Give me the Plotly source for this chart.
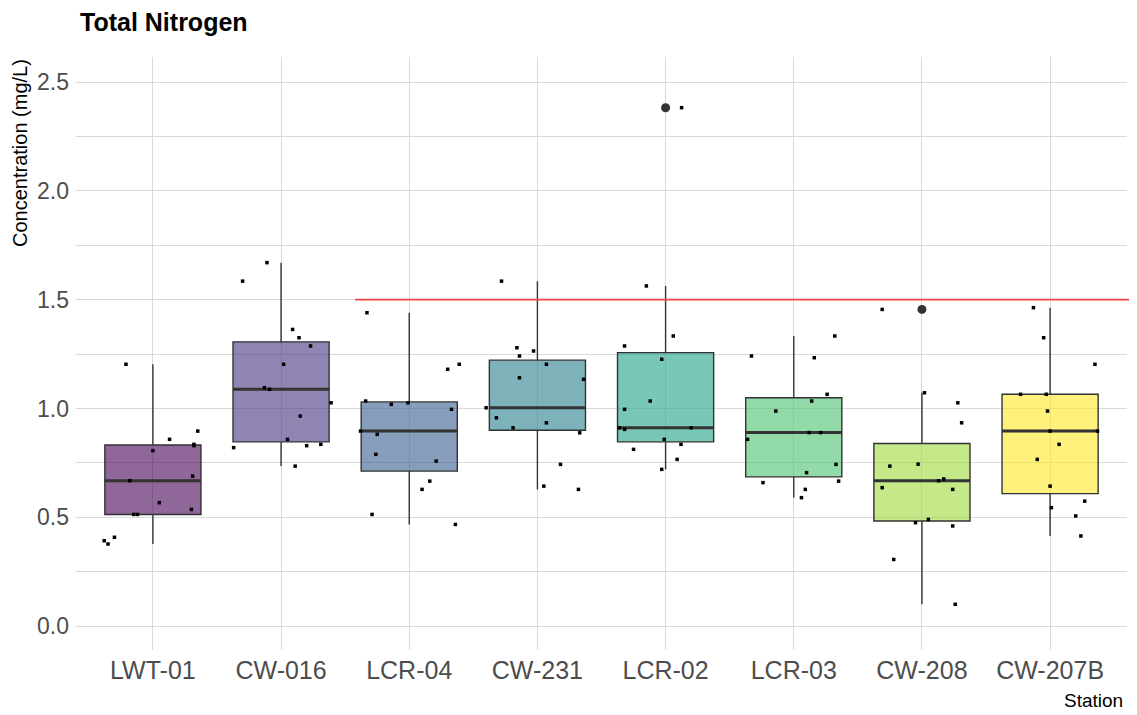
import numpy as np
import plotly.graph_objects as go

# ---------------- data ----------------
stations = ["LWT-01", "CW-016", "LCR-04", "CW-231", "LCR-02", "LCR-03", "CW-208", "CW-207B"]

lwt01 = [1.203, 0.806, 0.858, 0.896, 0.835, 0.829, 0.668, 0.689, 0.567, 0.536, 0.513, 0.513, 0.392, 0.377, 0.408]
lwt01_jit = [-0.21, 0.00, 0.13, 0.35, 0.32, 0.32, -0.18, 0.31, 0.05, 0.30, -0.15, -0.12, -0.38, -0.35, -0.30]

cw016 = [1.670, 1.585, 1.363, 1.325, 1.287, 1.203, 1.095, 1.088, 1.026, 0.965, 0.858, 0.829, 0.835, 0.820, 0.735]
cw016_jit = [-0.11, -0.30, 0.09, 0.14, 0.23, 0.02, -0.13, -0.09, 0.39, 0.15, 0.05, 0.20, 0.31, -0.37, 0.11]

lcr04 = [1.440, 1.180, 1.203, 1.034, 1.019, 1.026, 0.996, 0.896, 0.881, 0.789, 0.758, 0.666, 0.628, 0.513, 0.467]
lcr04_jit = [-0.33, 0.30, 0.39, -0.34, -0.14, -0.01, 0.33, -0.38, -0.25, -0.26, 0.21, 0.16, 0.10, -0.29, 0.36]

cw231 = [1.585, 1.279, 1.264, 1.241, 1.203, 1.141, 1.134, 1.003, 0.957, 0.934, 0.911, 0.888, 0.743, 0.643, 0.628]
cw231_jit = [-0.28, -0.16, -0.03, -0.14, 0.07, -0.14, 0.36, -0.40, -0.32, 0.07, -0.19, 0.33, 0.18, 0.05, 0.32]

lcr02 = [2.382, 1.563, 1.333, 1.287, 1.226, 1.034, 0.996, 0.911, 0.904, 0.911, 0.858, 0.835, 0.812, 0.766, 0.720]
lcr02_jit = [0.125, -0.15, 0.06, -0.32, -0.03, -0.12, -0.32, -0.36, -0.32, 0.20, -0.01, 0.12, -0.25, 0.09, -0.03]

lcr03 = [1.333, 1.241, 1.233, 1.065, 1.034, 0.988, 0.889, 0.889, 0.858, 0.743, 0.705, 0.659, 0.666, 0.628, 0.590]
lcr03_jit = [0.32, -0.33, 0.16, 0.26, 0.14, -0.14, 0.12, 0.21, -0.36, 0.33, 0.10, -0.24, 0.35, 0.09, 0.06]

cw208 = [1.455, 1.072, 1.026, 0.934, 0.735, 0.744, 0.668, 0.676, 0.636, 0.628, 0.475, 0.490, 0.460, 0.306, 0.100]
cw208_jit = [-0.31, 0.02, 0.28, 0.31, -0.25, -0.03, 0.13, 0.17, -0.31, 0.24, -0.05, 0.05, 0.24, -0.22, 0.26]

cw207b = [1.463, 1.325, 1.203, 1.065, 1.065, 0.988, 0.896, 0.896, 0.835, 0.766, 0.643, 0.574, 0.544, 0.506, 0.414]
cw207b_jit = [-0.13, -0.05, 0.35, -0.23, -0.03, -0.02, 0.00, 0.37, 0.07, -0.10, 0.00, 0.27, 0.01, 0.20, 0.24]

station_values = [lwt01, cw016, lcr04, cw231, lcr02, lcr03, cw208, cw207b]
station_jitter = [lwt01_jit, cw016_jit, lcr04_jit, cw231_jit, lcr02_jit, lcr03_jit, cw208_jit, cw207b_jit]

colors = ["#440154", "#46337E", "#365C8D", "#277F8E", "#1FA187", "#4AC16D", "#9FDA3A", "#FDE725"]
threshold = 1.5

# ---------------- figure ----------------
def rgba(hexc, a):
    h = hexc.lstrip("#")
    r, g, b = int(h[0:2], 16), int(h[2:4], 16), int(h[4:6], 16)
    return f"rgba({r},{g},{b},{a})"

fig = go.Figure()
BOXW = 0.75
EDGE = "#333333"

for i, (vals, col) in enumerate(zip(station_values, colors)):
    v = np.array(vals)
    q1, med, q3 = np.percentile(v, [25, 50, 75])
    iqr = q3 - q1
    inside = v[(v >= q1 - 1.5 * iqr) & (v <= q3 + 1.5 * iqr)]
    lf, uf = inside.min(), inside.max()
    fig.add_trace(go.Box(
        x=[i], q1=[q1], median=[med], q3=[q3], lowerfence=[lf], upperfence=[uf],
        width=BOXW, fillcolor=rgba(col, 0.6), line=dict(color=EDGE, width=1.4),
        whiskerwidth=0, boxpoints=False, showlegend=False, hoverinfo="skip"))
    # thicker median line
    fig.add_trace(go.Box(
        x=[i], q1=[med], median=[med], q3=[med], lowerfence=[med], upperfence=[med],
        width=BOXW, fillcolor="rgba(0,0,0,0)", line=dict(color=EDGE, width=3),
        whiskerwidth=0, boxpoints=False, showlegend=False, hoverinfo="skip"))
    out = v[(v < q1 - 1.5 * iqr) | (v > q3 + 1.5 * iqr)]
    if len(out):
        fig.add_trace(go.Scatter(
            x=[i] * len(out), y=out, mode="markers",
            marker=dict(color=EDGE, size=9), showlegend=False, hoverinfo="skip"))

# jittered points
for i, (vals, jit) in enumerate(zip(station_values, station_jitter)):
    fig.add_trace(go.Scatter(
        x=[i + j for j in jit], y=vals, mode="markers",
        marker=dict(color="black", size=3.5, symbol="square"),
        showlegend=False, hoverinfo="skip"))

# threshold line
fig.add_shape(type="line", xref="paper", yref="y", x0=0.2655, x1=1.012,
              y0=threshold, y1=threshold, line=dict(color="#EE4444", width=1.6),
              layer="above")

FONT = "Liberation Sans, Arial, sans-serif"
GRID = "#D9D9D9"

# the page body adds an 8px offset, so the figure is 8px smaller on each axis
W, H = 1129, 707
L, R, T, B = 68, 10, 49, 65
PW, PH = W - L - R, H - T - B

fig.update_layout(
    width=W, height=H,
    margin=dict(l=L, r=R, t=T, b=B, autoexpand=False),
    paper_bgcolor="white", plot_bgcolor="white",
    font=dict(family=FONT),
    title=dict(text="<b>Total Nitrogen</b>", x=72 / W, xanchor="left",
               y=1 - 14 / H, yanchor="middle",
               font=dict(size=25, color="black", family=FONT)),
    xaxis=dict(range=[-0.6, 7.6], tickmode="array", tickvals=list(range(len(stations))),
               ticktext=stations, showgrid=True, gridcolor=GRID, gridwidth=1.3,
               zeroline=False, showline=False, ticks="", automargin=False,
               ticklabelstandoff=3,
               tickfont=dict(size=25, color="#4D4D4D", family=FONT)),
    yaxis=dict(range=[-0.11, 2.615], tickmode="array", tickvals=[0, 0.5, 1.0, 1.5, 2.0, 2.5],
               ticktext=["0.0", "0.5", "1.0", "1.5", "2.0", "2.5"],
               showgrid=True, gridcolor=GRID, gridwidth=1.3, zeroline=False, showline=False,
               ticks="", automargin=False, ticklabelstandoff=6,
               tickfont=dict(size=23, color="#4D4D4D", family=FONT),
               minor=dict(tickmode="array", tickvals=[0.25, 0.75, 1.25, 1.75, 2.25],
                          showgrid=True, gridcolor=GRID, gridwidth=1.3)),
    annotations=[
        dict(text="Station", xref="paper", yref="paper", x=(1117 - L) / PW,
             y=-50 / PH, xanchor="right", yanchor="middle", showarrow=False,
             font=dict(size=19, color="black", family=FONT)),
        dict(text="Concentration (mg/L)", xref="paper", yref="paper",
             x=-56 / PW, y=1.0, xanchor="center", yanchor="top", textangle=-90,
             showarrow=False, font=dict(size=20, color="black", family=FONT)),
    ],
)

fig.write_html("out.html")
